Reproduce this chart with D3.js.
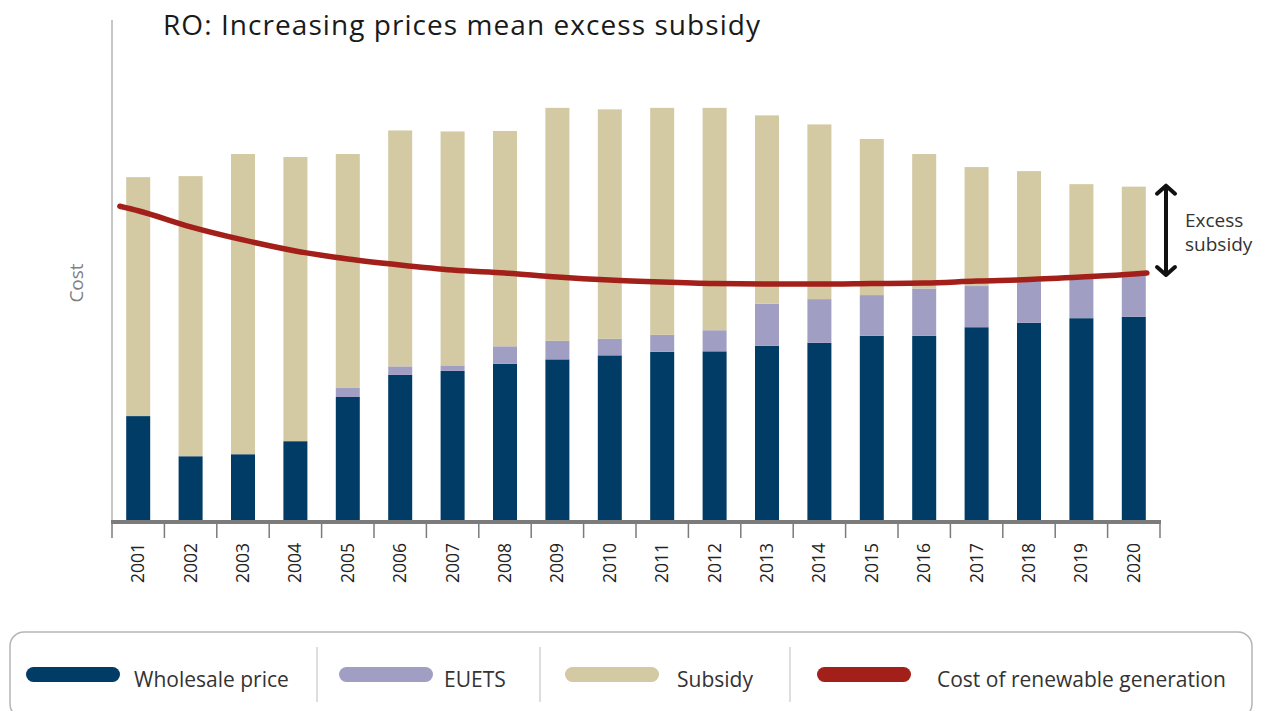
<!DOCTYPE html>
<meta charset="utf-8">
<html>
<head>
	<script src="https://cdn.jsdelivr.net/npm/d3@7"></script>
	<style>
		body { margin: 0; background: #fff; }
		svg { display: block; font-family: "Open Sans", sans-serif; }
	</style>
</head>
<body>
	<svg id="chart" width="1263" height="711"></svg>
	<script>
		var years = [2001, 2002, 2003, 2004, 2005, 2006, 2007, 2008, 2009, 2010,
			2011, 2012, 2013, 2014, 2015, 2016, 2017, 2018, 2019, 2020];
		var wholesale = [21.1, 13.1, 13.5, 16.1, 24.9, 29.3, 30.1, 31.5, 32.4, 33.2,
			33.9, 34.0, 35.1, 35.7, 37.1, 37.1, 38.8, 39.7, 40.6, 40.9];
		var euets = [0, 0, 0, 0, 1.9, 1.7, 1.1, 3.5, 3.7, 3.3,
			3.4, 4.2, 8.4, 8.7, 8.1, 9.4, 8.2, 8.1, 7.8, 8.1];
		var subsidy = [47.6, 55.8, 59.8, 56.6, 46.5, 47.0, 46.6, 42.9, 46.4, 45.7,
			45.2, 44.3, 37.5, 34.8, 31.1, 26.8, 23.7, 22.1, 18.9, 17.8];

		// cost line, read at each year (plus where the drawn line starts and stops)
		var costYears = [2000.65, 2001, 2002, 2003, 2004, 2005, 2006, 2007, 2008, 2009, 2010,
			2011, 2012, 2013, 2014, 2015, 2016, 2017, 2018, 2019, 2020, 2020.25];
		var costValues = [62.9, 62.0, 58.8, 56.2, 54.0, 52.4, 51.2, 50.2, 49.6, 48.8, 48.2,
			47.8, 47.5, 47.4, 47.4, 47.5, 47.6, 48.0, 48.3, 48.8, 49.4, 49.6];

		var legendLabels = ["Wholesale price", "EUETS", "Subsidy", "Cost of renewable generation"];
		var keys = ["wholesale", "euets", "subsidy"];
		var colors = {wholesale: "#003c66", euets: "#a19ec3", subsidy: "#d3c9a2", cost: "#a3201a"};

		// note: "top" is taken by window.top, so plot edges get their own names
		var plotLeft = 112, plotRight = 1160, plotTop = 20, plotBottom = 522;
		var barWidth = 24;

		var table = years.map(function(d, i) {
			return {year: d, wholesale: wholesale[i], euets: euets[i], subsidy: subsidy[i]};
		});

		var x = d3.scaleBand()
			.domain(years)
			.range([plotLeft, plotRight])
			.padding(0);

		var y = d3.scaleLinear()
			.domain([0, 100])
			.range([plotBottom, plotTop]);

		// continuous year scale for the line, lined up on band centres
		var xYear = d3.scaleLinear()
			.domain([years[0], years[years.length - 1]])
			.range([x(years[0]) + x.bandwidth() / 2, x(years[years.length - 1]) + x.bandwidth() / 2]);

		var svg = d3.select("#chart");

		// title
		svg.append("text")
			.attr("x", 163)
			.attr("y", 35)
			.attr("font-size", 28)
			.attr("textLength", 597)
			.attr("lengthAdjust", "spacing")
			.attr("fill", "#1a1a1a")
			.text("RO: Increasing prices mean excess subsidy");

		// y axis line
		svg.append("line")
			.attr("x1", plotLeft).attr("x2", plotLeft)
			.attr("y1", plotTop).attr("y2", plotBottom)
			.attr("stroke", "#b3b3b3")
			.attr("stroke-width", 1.5);

		svg.append("text")
			.attr("transform", "translate(83,283) rotate(-90)")
			.attr("text-anchor", "middle")
			.attr("font-size", 19)
			.attr("fill", "#808080")
			.text("Cost");

		// stacked bars
		var series = d3.stack().keys(keys)(table);

		svg.append("g").selectAll("g")
			.data(series)
			.enter().append("g")
				.attr("fill", function(d) { return colors[d.key]; })
			.selectAll("rect")
			.data(function(d) { return d; })
			.enter().append("rect")
				.attr("x", function(d) { return x(d.data.year) + (x.bandwidth() - barWidth) / 2; })
				.attr("width", barWidth)
				.attr("y", function(d) { return y(d[1]); })
				.attr("height", function(d) { return y(d[0]) - y(d[1]); });

		// x axis
		var xAxis = svg.append("g")
			.attr("transform", "translate(0," + plotBottom + ")");

		xAxis.append("line")
			.attr("x1", plotLeft - 1).attr("x2", plotRight + 1)
			.attr("stroke", "#7b7b7b")
			.attr("stroke-width", 4);

		var tickPos = years.map(function(d) { return x(d); }).concat([plotRight]);
		xAxis.selectAll(".tick-mark")
			.data(tickPos)
			.enter().append("line")
				.attr("class", "tick-mark")
				.attr("x1", function(d) { return d; })
				.attr("x2", function(d) { return d; })
				.attr("y1", 0).attr("y2", 16)
				.attr("stroke", "#7b7b7b")
				.attr("stroke-width", 1.5);

		xAxis.selectAll(".year")
			.data(years)
			.enter().append("text")
				.attr("class", "year")
				.attr("transform", function(d) { return "translate(" + (x(d) + x.bandwidth() / 2 + 6) + ",21) rotate(-90)"; })
				.attr("text-anchor", "end")
				.attr("font-size", 17.5)
				.attr("fill", "#222")
				.text(function(d) { return d; });

		// cost of renewable generation
		var line = d3.line()
			.x(function(d, i) { return xYear(costYears[i]); })
			.y(function(d) { return y(d); })
			.curve(d3.curveMonotoneX);

		svg.append("path")
			.datum(costValues)
			.attr("d", line)
			.attr("fill", "none")
			.attr("stroke", colors.cost)
			.attr("stroke-width", 5.5)
			.attr("stroke-linecap", "round");

		// excess subsidy arrow
		var last = table[table.length - 1];
		var arrowX = 1166;
		var arrowTop = y(last.wholesale + last.euets + last.subsidy) - 1;
		var arrowBottom = y(costValues[costValues.length - 1]) + 2;

		var arrow = svg.append("g")
			.attr("stroke", "#111")
			.attr("stroke-width", 4)
			.attr("fill", "none")
			.attr("stroke-linecap", "round")
			.attr("stroke-linejoin", "round");

		arrow.append("line")
			.attr("x1", arrowX).attr("x2", arrowX)
			.attr("y1", arrowTop + 1).attr("y2", arrowBottom - 1);
		arrow.append("path")
			.attr("d", "M" + (arrowX - 9) + "," + (arrowTop + 8) + "L" + arrowX + "," + arrowTop + "L" + (arrowX + 9) + "," + (arrowTop + 8));
		arrow.append("path")
			.attr("d", "M" + (arrowX - 9) + "," + (arrowBottom - 8) + "L" + arrowX + "," + arrowBottom + "L" + (arrowX + 9) + "," + (arrowBottom - 8));

		svg.append("text")
			.attr("x", 1185).attr("y", 227)
			.attr("font-size", 19)
			.attr("fill", "#333")
			.text("Excess");
		svg.append("text")
			.attr("x", 1185).attr("y", 251)
			.attr("font-size", 19)
			.attr("fill", "#333")
			.text("subsidy");

		// legend
		var legend = svg.append("g");

		legend.append("rect")
			.attr("x", 10).attr("y", 632)
			.attr("width", 1242).attr("height", 86)
			.attr("rx", 14)
			.attr("fill", "none")
			.attr("stroke", "#b5b5b5")
			.attr("stroke-width", 1.5);

		var swatchX = [26, 339, 565, 817];
		var labelX = [134, 444, 677, 937];
		var sepX = [317, 540, 790];
		var legendColors = [colors.wholesale, colors.euets, colors.subsidy, colors.cost];

		legend.selectAll(".sep")
			.data(sepX)
			.enter().append("line")
				.attr("class", "sep")
				.attr("x1", function(d) { return d; })
				.attr("x2", function(d) { return d; })
				.attr("y1", 647).attr("y2", 702)
				.attr("stroke", "#c8c8c8")
				.attr("stroke-width", 1.2);

		legend.selectAll(".swatch")
			.data(legendLabels)
			.enter().append("rect")
				.attr("class", "swatch")
				.attr("x", function(d, i) { return swatchX[i]; })
				.attr("y", 667)
				.attr("width", 94)
				.attr("height", 15)
				.attr("rx", 7.5)
				.attr("fill", function(d, i) { return legendColors[i]; });

		legend.selectAll(".label")
			.data(legendLabels)
			.enter().append("text")
				.attr("class", "label")
				.attr("x", function(d, i) { return labelX[i]; })
				.attr("y", 687)
				.attr("font-size", 21)
				.attr("fill", "#333")
				.text(function(d) { return d; });
	</script>
</body>
</html>
